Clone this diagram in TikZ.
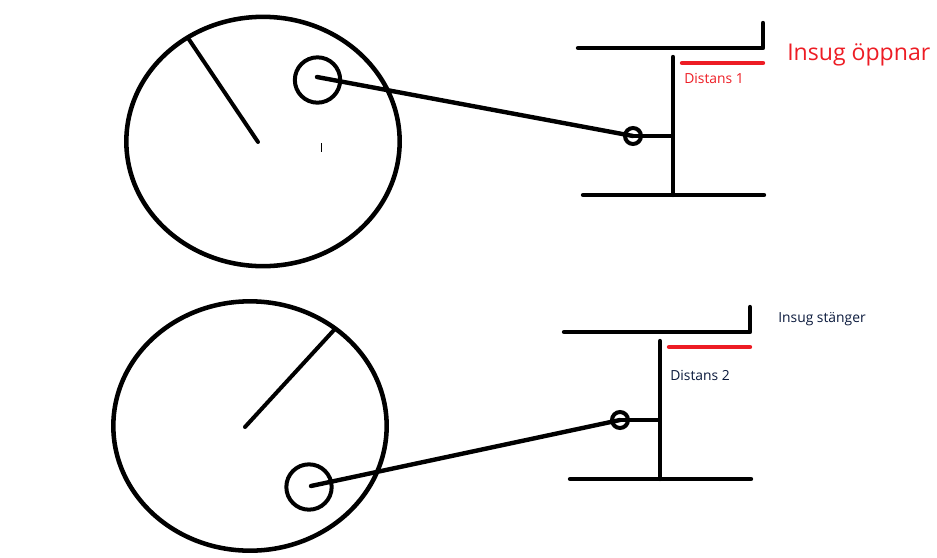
\documentclass[tikz,border=0pt]{standalone}
\usepackage{fontspec}
\setmainfont{Open Sans}
\usetikzlibrary{shapes.geometric}
\definecolor{redline}{RGB}{237,28,36}
\definecolor{darktext}{RGB}{10,25,60}
\tikzset{
  x=0.75pt,y=-0.75pt,
  thick line/.style={draw=black,line width=3.3pt,line cap=round},
  mid line/.style={draw=black,line width=3pt,line cap=round},
  red line/.style={draw=redline,line width=3.3pt,line cap=round},
  wheel/.style={draw=black,line width=3.4pt,ellipse,minimum width=205pt,minimum height=187pt,inner sep=0pt,outer sep=0pt},
  cam/.style={circle,draw=black,line width=3pt,minimum size=34pt,inner sep=0pt},
  pin/.style={circle,draw=black,line width=3pt,minimum size=12pt,inner sep=0pt},
  lbl/.style={inner sep=0pt,anchor=base west},
  small label/.style={lbl,font=\fontsize{10.4}{12}\selectfont},
}
\begin{document}
\begin{tikzpicture}
\useasboundingbox (0,0) rectangle (937,557);
% upper
\node[wheel] (w1) at (263,141.5) {};
\node[cam] (c1) at (317.5,80) {};
\node[pin] (p1) at (633,136) {};
\coordinate (h1) at (258,142);
\coordinate (r1) at (188,38);
\coordinate (e1) at (317,77);
\draw[mid line] (h1) -- (r1);
\draw[thick line] (e1) -- (p1.center);
\draw[draw=black,line width=.75pt] (321.5,143) -- (321.5,152);
\coordinate (a1) at (578,48); \coordinate (a2) at (763,48); \coordinate (a3) at (763,23);
\coordinate (v1) at (673,57); \coordinate (v2) at (673,195);
\coordinate (b1) at (583,195); \coordinate (b2) at (764,195);
\coordinate (k1) at (673,136);
\coordinate (d1) at (682,63); \coordinate (d2) at (763,63);
\draw[thick line,line join=round] (a1) -- (a2) -- (a3);
\draw[thick line] (v1) -- (v2);
\draw[thick line] (b1) -- (b2);
\draw[thick line,line cap=butt] (p1.center) -- (k1);
\draw[red line] (d1) -- (d2);
\node[lbl,text=redline,font=\fontsize{17.3}{20}\selectfont] (t1) at (787,60) {Insug öppnar};
\node[small label,text=redline] (t2) at (684,83) {Distans 1};
% lower
\node[wheel] (w2) at (250,426) {};
\node[cam] (c2) at (309,487) {};
\node[pin] (p2) at (620,420) {};
\coordinate (h2) at (245,427);
\coordinate (r2) at (334,330);
\coordinate (e2) at (311,486);
\draw[mid line] (h2) -- (r2);
\draw[thick line] (e2) -- (p2.center);
\coordinate (a4) at (564,332); \coordinate (a5) at (750,332); \coordinate (a6) at (750,307);
\coordinate (v3) at (660,341); \coordinate (v4) at (660,479);
\coordinate (b3) at (570,479); \coordinate (b4) at (751,479);
\coordinate (k2) at (660,420);
\coordinate (d3) at (669,347); \coordinate (d4) at (750,347);
\draw[thick line,line join=round] (a4) -- (a5) -- (a6);
\draw[thick line] (v3) -- (v4);
\draw[thick line] (b3) -- (b4);
\draw[thick line,line cap=butt] (p2.center) -- (k2);
\draw[red line] (d3) -- (d4);
\node[small label,text=darktext] (t3) at (778,322) {Insug stänger};
\node[small label,text=darktext] (t4) at (670,380) {Distans 2};
\end{tikzpicture}
\end{document}
